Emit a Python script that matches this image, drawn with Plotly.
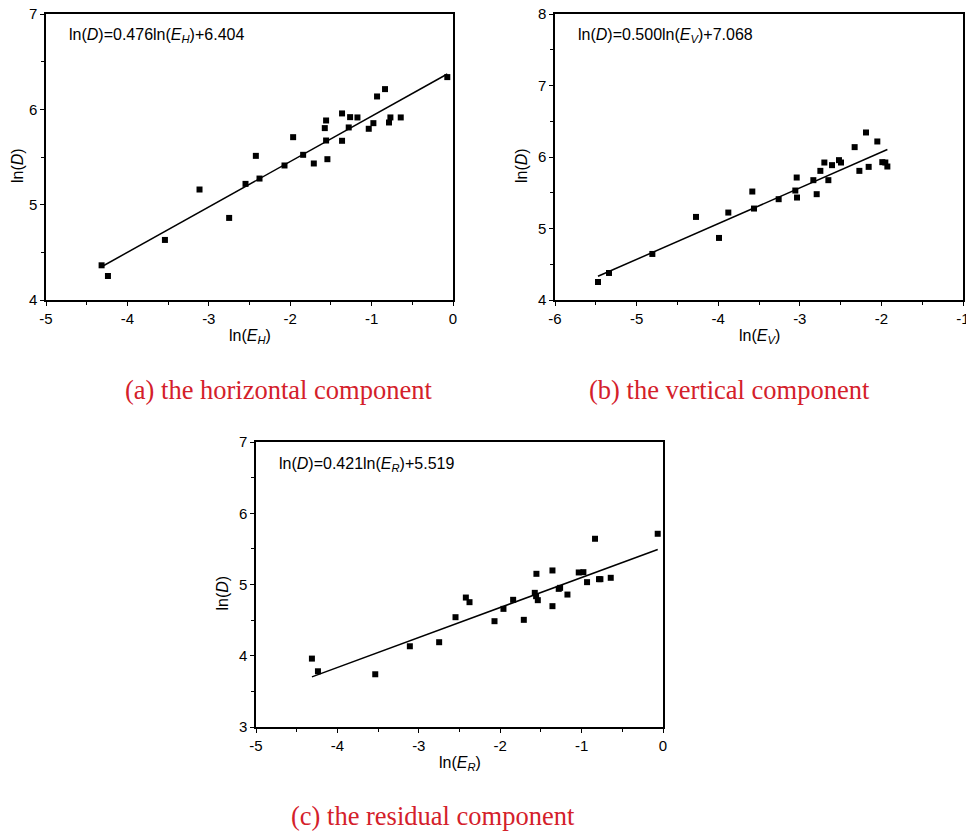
import plotly.graph_objects as go

# ---------------- data ----------------
# (a) horizontal component
x_h = [-4.317, -4.239, -3.539, -3.114, -2.750, -2.549, -2.422, -2.377, -2.070, -1.964,
       -1.841, -1.710, -1.575, -1.559, -1.559, -1.543, -1.363, -1.363, -1.281, -1.264,
       -1.174, -1.035, -0.978, -0.933, -0.835, -0.786, -0.769, -0.642, -0.070]
y_h = [4.364, 4.252, 4.630, 5.159, 4.861, 5.218, 5.512, 5.274, 5.411, 5.708,
       5.523, 5.432, 5.803, 5.883, 5.673, 5.477, 5.957, 5.670, 5.810, 5.918,
       5.915, 5.796, 5.855, 6.135, 6.212, 5.862, 5.915, 5.915, 6.338]
fit_h = (0.476, 6.404)

# (b) vertical component
x_v = [-5.473, -5.338, -4.807, -4.272, -3.990, -3.876, -3.582, -3.561, -3.259, -3.055,
       -3.038, -3.034, -2.834, -2.793, -2.748, -2.699, -2.650, -2.605, -2.520, -2.495,
       -2.328, -2.270, -2.189, -2.156, -2.050, -1.989, -1.952, -1.927]
y_v = [4.252, 4.378, 4.644, 5.162, 4.868, 5.223, 5.517, 5.279, 5.410, 5.531,
       5.713, 5.433, 5.676, 5.480, 5.806, 5.923, 5.676, 5.886, 5.956, 5.923,
       6.138, 5.806, 6.343, 5.862, 6.217, 5.928, 5.923, 5.867]
fit_v = (0.500, 7.068)

# (c) residual component
x_r = [-4.313, -4.239, -3.535, -3.110, -2.750, -2.549, -2.422, -2.377, -2.070, -1.960,
       -1.841, -1.710, -1.575, -1.555, -1.559, -1.538, -1.358, -1.358, -1.281, -1.264,
       -1.174, -1.035, -0.978, -0.933, -0.835, -0.786, -0.769, -0.642, -0.065]
y_r = [3.960, 3.782, 3.740, 4.133, 4.190, 4.541, 4.817, 4.752, 4.485, 4.658,
       4.785, 4.504, 4.883, 5.150, 4.836, 4.780, 5.197, 4.696, 4.939, 4.953,
       4.859, 5.169, 5.173, 5.033, 5.642, 5.075, 5.075, 5.094, 5.712]
fit_r = (0.421, 5.519)

# tick values / labels
x_ticks = [[-5, -4, -3, -2, -1, 0], [-6, -5, -4, -3, -2, -1], [-5, -4, -3, -2, -1, 0]]
x_ticklabels = [["-5", "-4", "-3", "-2", "-1", "0"],
                ["-6", "-5", "-4", "-3", "-2", "-1"],
                ["-5", "-4", "-3", "-2", "-1", "0"]]
y_ticks = [[4, 5, 6, 7], [4, 5, 6, 7, 8], [3, 4, 5, 6, 7]]
y_ticklabels = [["4", "5", "6", "7"], ["4", "5", "6", "7", "8"], ["3", "4", "5", "6", "7"]]

eq_texts = [
    "ln(<i>D</i>)=0.476ln(<i>E</i><sub><i>H</i></sub>)+6.404",
    "ln(<i>D</i>)=0.500ln(<i>E</i><sub><i>V</i></sub>)+7.068",
    "ln(<i>D</i>)=0.421ln(<i>E</i><sub><i>R</i></sub>)+5.519",
]
x_titles = ["ln(<i>E</i><sub><i>H</i></sub>)", "ln(<i>E</i><sub><i>V</i></sub>)",
            "ln(<i>E</i><sub><i>R</i></sub>)"]
y_title = "ln(<i>D</i>)"
captions = ["(a) the horizontal component", "(b) the vertical component",
            "(c) the residual component"]

x_ranges = [[-5, 0], [-6, -1], [-5, 0]]
y_ranges = [[4, 7], [4, 8], [3, 7]]

# ---------------- layout geometry (pixels, page coordinates) ----------------
PAGE_OFF = 8                      # default body margin of the html page
W, H = 974 - PAGE_OFF, 833 - PAGE_OFF
# panel boxes: left, right, top, bottom in page pixels
boxes = [(46, 453, 14, 300), (555, 963, 14, 300), (256, 663, 442, 727)]


def px(xp):
    return (xp - PAGE_OFF) / W


def py(yp):
    return 1 - (yp - PAGE_OFF) / H


FONT = "Liberation Sans, Arial, sans-serif"
SERIF = "Liberation Serif, Times New Roman, serif"
RED = "#d4202a"

fig = go.Figure()
series = [(x_h, y_h, fit_h), (x_v, y_v, fit_v), (x_r, y_r, fit_r)]
layout = {}
annotations = []

for i, ((xs, ys, (k, b)), box) in enumerate(zip(series, boxes)):
    n = "" if i == 0 else str(i + 1)
    xa, ya = "x" + n, "y" + n
    fig.add_trace(go.Scatter(x=xs, y=ys, mode="markers", xaxis=xa, yaxis=ya,
                             marker=dict(symbol="square", size=6, color="black"),
                             showlegend=False, cliponaxis=False))
    x0, x1 = min(xs), max(xs)
    fig.add_trace(go.Scatter(x=[x0, x1], y=[k * x0 + b, k * x1 + b], mode="lines",
                             xaxis=xa, yaxis=ya, line=dict(color="black", width=1.5),
                             showlegend=False))
    l, r, t, bt = box
    axis_common = dict(showline=True, linecolor="black", linewidth=1.5, mirror=True,
                       ticks="outside", ticklen=4, tickwidth=1.2, tickcolor="black",
                       showgrid=False, zeroline=False, automargin=False,
                       ticklabeloverflow="allow",
                       tickfont=dict(family=FONT, size=15, color="black"),
                       minor=dict(ticks="outside", ticklen=3, tickwidth=1.2,
                                  tickcolor="black", dtick=0.5, showgrid=False))
    layout["xaxis" + n] = dict(axis_common, domain=[px(l), px(r)], range=x_ranges[i],
                               anchor=ya, tickmode="array", tickvals=x_ticks[i],
                               ticktext=x_ticklabels[i])
    layout["xaxis" + n]["minor"] = dict(axis_common["minor"], tick0=x_ranges[i][0])
    layout["yaxis" + n] = dict(axis_common, domain=[py(bt), py(t)],
                               range=y_ranges[i], anchor=xa, tickmode="array",
                               tickvals=y_ticks[i], ticktext=y_ticklabels[i])
    layout["yaxis" + n]["minor"] = dict(axis_common["minor"], tick0=y_ranges[i][0])
    # equation
    annotations.append(dict(text=eq_texts[i], xref="paper", yref="paper",
                            x=px(l + 21), y=py(t + 22), xanchor="left",
                            yanchor="middle", showarrow=False,
                            font=dict(family=FONT, size=16, color="black")))
    # x title
    annotations.append(dict(text=x_titles[i], xref="paper", yref="paper",
                            x=px((l + r) / 2), y=py(bt + 36), xanchor="center",
                            yanchor="middle", showarrow=False,
                            font=dict(family=FONT, size=16, color="black")))
    # y title
    annotations.append(dict(text=y_title, xref="paper", yref="paper",
                            x=px(max(l - 34, 17)), y=py((t + bt) / 2 + 9),
                            xanchor="center", yanchor="middle", textangle=-90,
                            showarrow=False,
                            font=dict(family=FONT, size=16, color="black")))

cap_pos = [(278, 390), (729, 390), (433, 816)]
for txt, (cx, cy) in zip(captions, cap_pos):
    annotations.append(dict(text=txt, xref="paper", yref="paper", x=px(cx),
                            y=py(cy), xanchor="center", yanchor="middle",
                            showarrow=False,
                            font=dict(family=SERIF, size=26.5, color=RED)))

fig.update_layout(width=W, height=H, margin=dict(l=0, r=0, t=0, b=0),
                  paper_bgcolor="white", plot_bgcolor="white",
                  annotations=annotations, **layout)

fig.write_html("out.html")
